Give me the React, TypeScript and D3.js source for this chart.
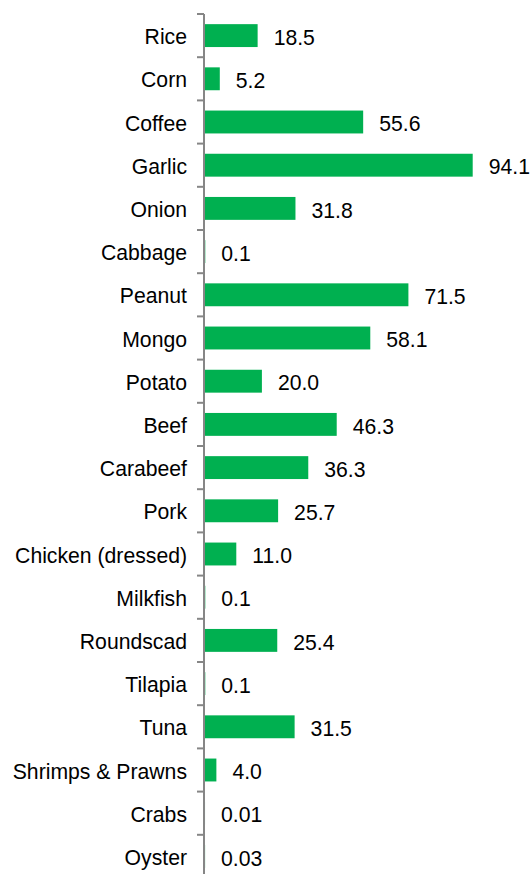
import React from "react";
import * as d3 from "d3";

const categories = [
  "Rice", "Corn", "Coffee", "Garlic", "Onion", "Cabbage", "Peanut", "Mongo", "Potato", "Beef",
  "Carabeef", "Pork", "Chicken (dressed)", "Milkfish", "Roundscad", "Tilapia", "Tuna",
  "Shrimps & Prawns", "Crabs", "Oyster",
];
const values = [18.5, 5.2, 55.6, 94.1, 31.8, 0.1, 71.5, 58.1, 20.0, 46.3, 36.3, 25.7, 11.0, 0.1, 25.4, 0.1, 31.5, 4.0, 0.01, 0.03];
const valueLabels = ["18.5", "5.2", "55.6", "94.1", "31.8", "0.1", "71.5", "58.1", "20.0", "46.3", "36.3", "25.7", "11.0", "0.1", "25.4", "0.1", "31.5", "4.0", "0.01", "0.03"];

export default function App() {
  const W = 530, H = 874;
  const axisX = 204;
  const x = d3.scaleLinear().domain([0, 94.1]).range([axisX + 1, 472.7]);
  const y = d3.scaleBand<string>().domain(categories).range([14, 878]).paddingInner(0.47).paddingOuter(0.235);
  const step = y.step();
  const font = "Liberation Sans, Arial, sans-serif";
  const fs = 21.2;
  return (
    <svg width={W} height={H} style={{ position: "absolute", left: 0, top: 0 }}>
      <rect width={W} height={H} fill="#fff" />
      {categories.map((c, i) => {
        const yy = y(c)!;
        const cy = 14 + step * i + step / 2;
        return (
          <g key={c}>
            <rect x={x(0)} y={yy} width={Math.max(0, x(values[i]) - x(0))} height={y.bandwidth()} fill="#00B050" />
            <text x={axisX - 17} y={cy + 1} dy="0.36em" textAnchor="end" fontFamily={font} fontSize={fs} fill="#000">{c}</text>
            <text x={x(values[i]) + 16} y={cy + 1.5} dy="0.36em" textAnchor="start" fontFamily={font} fontSize={fs} fill="#000">{valueLabels[i]}</text>
          </g>
        );
      })}
      <line x1={axisX} x2={axisX} y1={14} y2={878} stroke="#868686" strokeWidth={2} />
      {d3.range(categories.length + 1).map((i) => (
        <line key={i} x1={axisX - 7} x2={axisX} y1={14 + step * i} y2={14 + step * i} stroke="#868686" strokeWidth={2} />
      ))}
    </svg>
  );
}
